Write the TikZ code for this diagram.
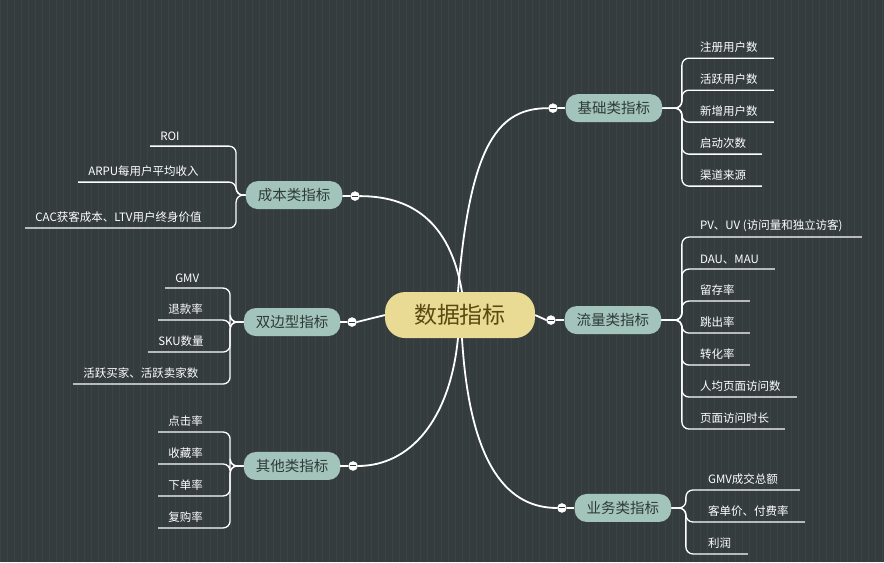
\documentclass[tikz,border=0pt]{standalone}
\usepackage{fontspec}
\setmainfont{Noto Sans CJK SC}
\definecolor{bg}{HTML}{353C3E}
\definecolor{gridc}{HTML}{3B4345}
\definecolor{rootfill}{HTML}{E9DB93}
\definecolor{roottext}{HTML}{5A4A12}
\definecolor{subfill}{HTML}{A3C4BA}
\definecolor{subtext}{HTML}{2F3A38}
\tikzset{
  root/.style={rounded corners=20pt, fill=rootfill, text=roottext, minimum width=150pt,
    minimum height=46pt, font=\fontsize{23}{26}\selectfont},
  topic/.style={rounded corners=12pt, fill=subfill, text=subtext, minimum height=28pt,
    inner xsep=12pt, font=\fontsize{14.5}{16}\selectfont},
  link/.style={draw=white, line width=1.8pt},
  leaf/.style={draw=white, line width=1.3pt, rounded corners=7pt},
  leaftext/.style={text=white, font=\fontsize{11.5}{13}\selectfont, inner sep=1pt},
  fold/.style={circle, draw=white, fill=white, inner sep=0pt, minimum size=9pt,
    path picture={\draw[bg, line width=1pt] (-3pt,0) -- (3pt,0);}}
}
\begin{document}
\begin{tikzpicture}[x=1pt, y=-1pt]
    \fill[bg] (0,0) rectangle (884,562);
    \draw[gridc, step=7] (0,0) grid (884,562);
    \useasboundingbox (0,0) rectangle (884,562);
    % centre and topics
    \node[root] (data) at (460,315) {数据指标};
    \node[topic] (base) at (614,108) {基础类指标};
    \node[topic] (flow) at (613,320) {流量类指标};
    \node[topic] (biz) at (623,508) {业务类指标};
    \node[topic] (cost) at (294,195) {成本类指标};
    \node[topic] (twoside) at (292,322) {双边型指标};
    \node[topic] (other) at (292,466) {其他类指标};
    \node[fold] (fbase) at (553,108) {};
    \node[fold] (fflow) at (551,320) {};
    \node[fold] (fbiz) at (562,508) {};
    \node[fold] (fcost) at (355,196) {};
    \node[fold] (ftwo) at (352,322) {};
    \node[fold] (fother) at (353,466) {};
    % links from centre
    \draw[link] (458,292) .. controls (470,140) and (500,108) .. (fbase.west);
    \draw[link] (462,292) .. controls (450,220) and (410,196) .. (fcost.east);
    \draw[link] (data.east) -- (fflow.west);
    \draw[link] (data.west) -- (ftwo.east);
    \draw[link] (458,338) .. controls (450,420) and (410,466) .. (fother.east);
    \draw[link] (462,338) .. controls (470,470) and (510,508) .. (fbiz.west);
    \foreach \a/\b in {fbase/base, fflow/flow, fbiz/biz, fcost/cost, ftwo/twoside, fother/other}
      \draw[link] (\a) -- (\b);
    % right leaves
    \foreach \t/\y/\e in {注册用户数/58/774, 活跃用户数/90/774, 新增用户数/122/774,
        启动次数/154/762, 渠道来源/186/762} {
      \coordinate (b\y) at (\e,\y);
      \draw[leaf] (base.east) -- (682,108) -- (682,\y) -- (b\y);
      \node[leaftext, anchor=south west] at (699,\y-4) {\t};
    }
    \foreach \t/\y/\e in {{PV、UV (访问量和独立访客)}/237/862, DAU、MAU/269/775, 留存率/301/750,
        跳出率/333/750, 转化率/365/750, 人均页面访问数/397/797, 页面访问时长/429/785} {
      \coordinate (f\y) at (\e,\y);
      \draw[leaf] (flow.east) -- (682,320) -- (682,\y) -- (f\y);
      \node[leaftext, anchor=south west] at (699,\y-4) {\t};
    }
    \foreach \t/\y/\e in {GMV成交总额/490/800, 客单价、付费率/522/805, 利润/554/748} {
      \coordinate (g\y) at (\e,\y);
      \draw[leaf] (biz.east) -- (686,508) -- (686,\y) -- (g\y);
      \node[leaftext, anchor=south west] at (707,\y-4) {\t};
    }
    % left leaves
    \foreach \t/\y/\s in {ROI/146/150, ARPU每用户平均收入/182/78, CAC获客成本、LTV用户终身价值/228/25} {
      \coordinate (c\y) at (\s,\y);
      \draw[leaf] (cost.west) -- (236,195) -- (236,\y) -- (c\y);
      \node[leaftext, anchor=south west] at (\s+9,\y-4) {\t};
    }
    \foreach \t/\y/\s in {GMV/288/165, 退款率/320/158, SKU数量/352/148, 活跃买家、活跃卖家数/384/73} {
      \coordinate (d\y) at (\s,\y);
      \draw[leaf] (twoside.west) -- (230,322) -- (230,\y) -- (d\y);
      \node[leaftext, anchor=south west] at (\s+9,\y-4) {\t};
    }
    \foreach \t/\y in {点击率/432, 收藏率/464, 下单率/496, 复购率/528} {
      \coordinate (o\y) at (158,\y);
      \draw[leaf] (other.west) -- (230,466) -- (230,\y) -- (o\y);
      \node[leaftext, anchor=south west] at (167,\y-4) {\t};
    }
\end{tikzpicture}
\end{document}
